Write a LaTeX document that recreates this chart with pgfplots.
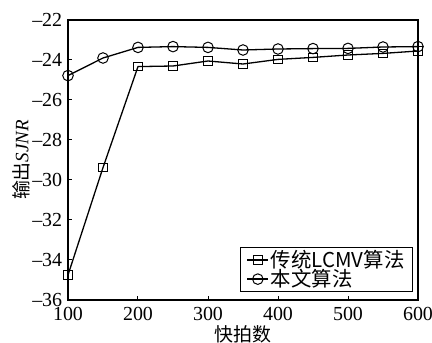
\documentclass[border=0pt]{standalone}
\usepackage{fontspec}
\setmainfont{Liberation Serif}
\newfontfamily\cjk{Noto Sans CJK SC}
\usepackage{pgfplots}
\pgfplotsset{compat=1.18}
\begin{document}
\fontsize{20}{22}\selectfont
\begin{tikzpicture}
\begin{axis}[name=a,
  scale only axis, width=350bp, height=280bp,
  xmin=100, xmax=600, ymin=-36, ymax=-22,
  xtick={100,200,...,600}, ytick={-36,-34,...,-22},
  tick pos=left, tick align=inside, major tick length=4bp,
  axis line style={line width=1.2bp}, every tick/.style={line width=1bp,black},
  /pgf/number format/assume math mode=true,
  yticklabel={\ifdim\tick pt<0pt \textendash\pgfmathparse{-\tick}\pgfmathprintnumber[assume math mode=true]{\pgfmathresult}\else\pgfmathprintnumber[assume math mode=true]{\tick}\fi},
  tick label style={font=\fontsize{20}{22}\selectfont},
  yticklabel style={xshift=1bp},
  xticklabel style={yshift=0bp},
  xlabel={\cjk 快拍数}, ylabel={{\cjk 输出}\textit{SJNR}},
  xlabel style={font=\fontsize{19}{20}\selectfont, yshift=8bp},
  ylabel style={font=\fontsize{19}{20}\selectfont, yshift=-11bp},
  legend style={at={(0.986,0.029)}, anchor=south east, font=\fontsize{20.5}{21}\selectfont\cjk, draw=black, line width=1.2bp, inner xsep=6bp, inner ysep=0bp, row sep=-5bp},
  legend cell align=left,
  legend image code/.code={\draw[mark repeat=2,mark phase=2] plot coordinates {(0cm,0cm) (0.37cm,0cm) (0.74cm,0cm)};},
]
\addplot[black, line width=1.3bp, mark=square, mark size=4.2bp, mark options={line width=1bp, fill=white}] coordinates {
(100,-34.75) (150,-29.38) (200,-24.33) (250,-24.3) (300,-24.05) (350,-24.2) (400,-23.97) (450,-23.87) (500,-23.75) (550,-23.67) (600,-23.55)};
\addlegendentry{传统LCMV算法}
\addplot[black, line width=1.3bp, mark=o, mark size=5.3bp, mark options={line width=1bp}] coordinates {
(100,-24.78) (150,-23.9) (200,-23.37) (250,-23.33) (300,-23.37) (350,-23.5) (400,-23.45) (450,-23.43) (500,-23.42) (550,-23.35) (600,-23.33)};
\addlegendentry{本文算法}
\end{axis}
\pgfresetboundingbox
\path[use as bounding box] ([shift={(-68bp,-43bp)}]a.south west) rectangle ([shift={(14bp,20bp)}]a.north east);
\end{tikzpicture}
\end{document}
